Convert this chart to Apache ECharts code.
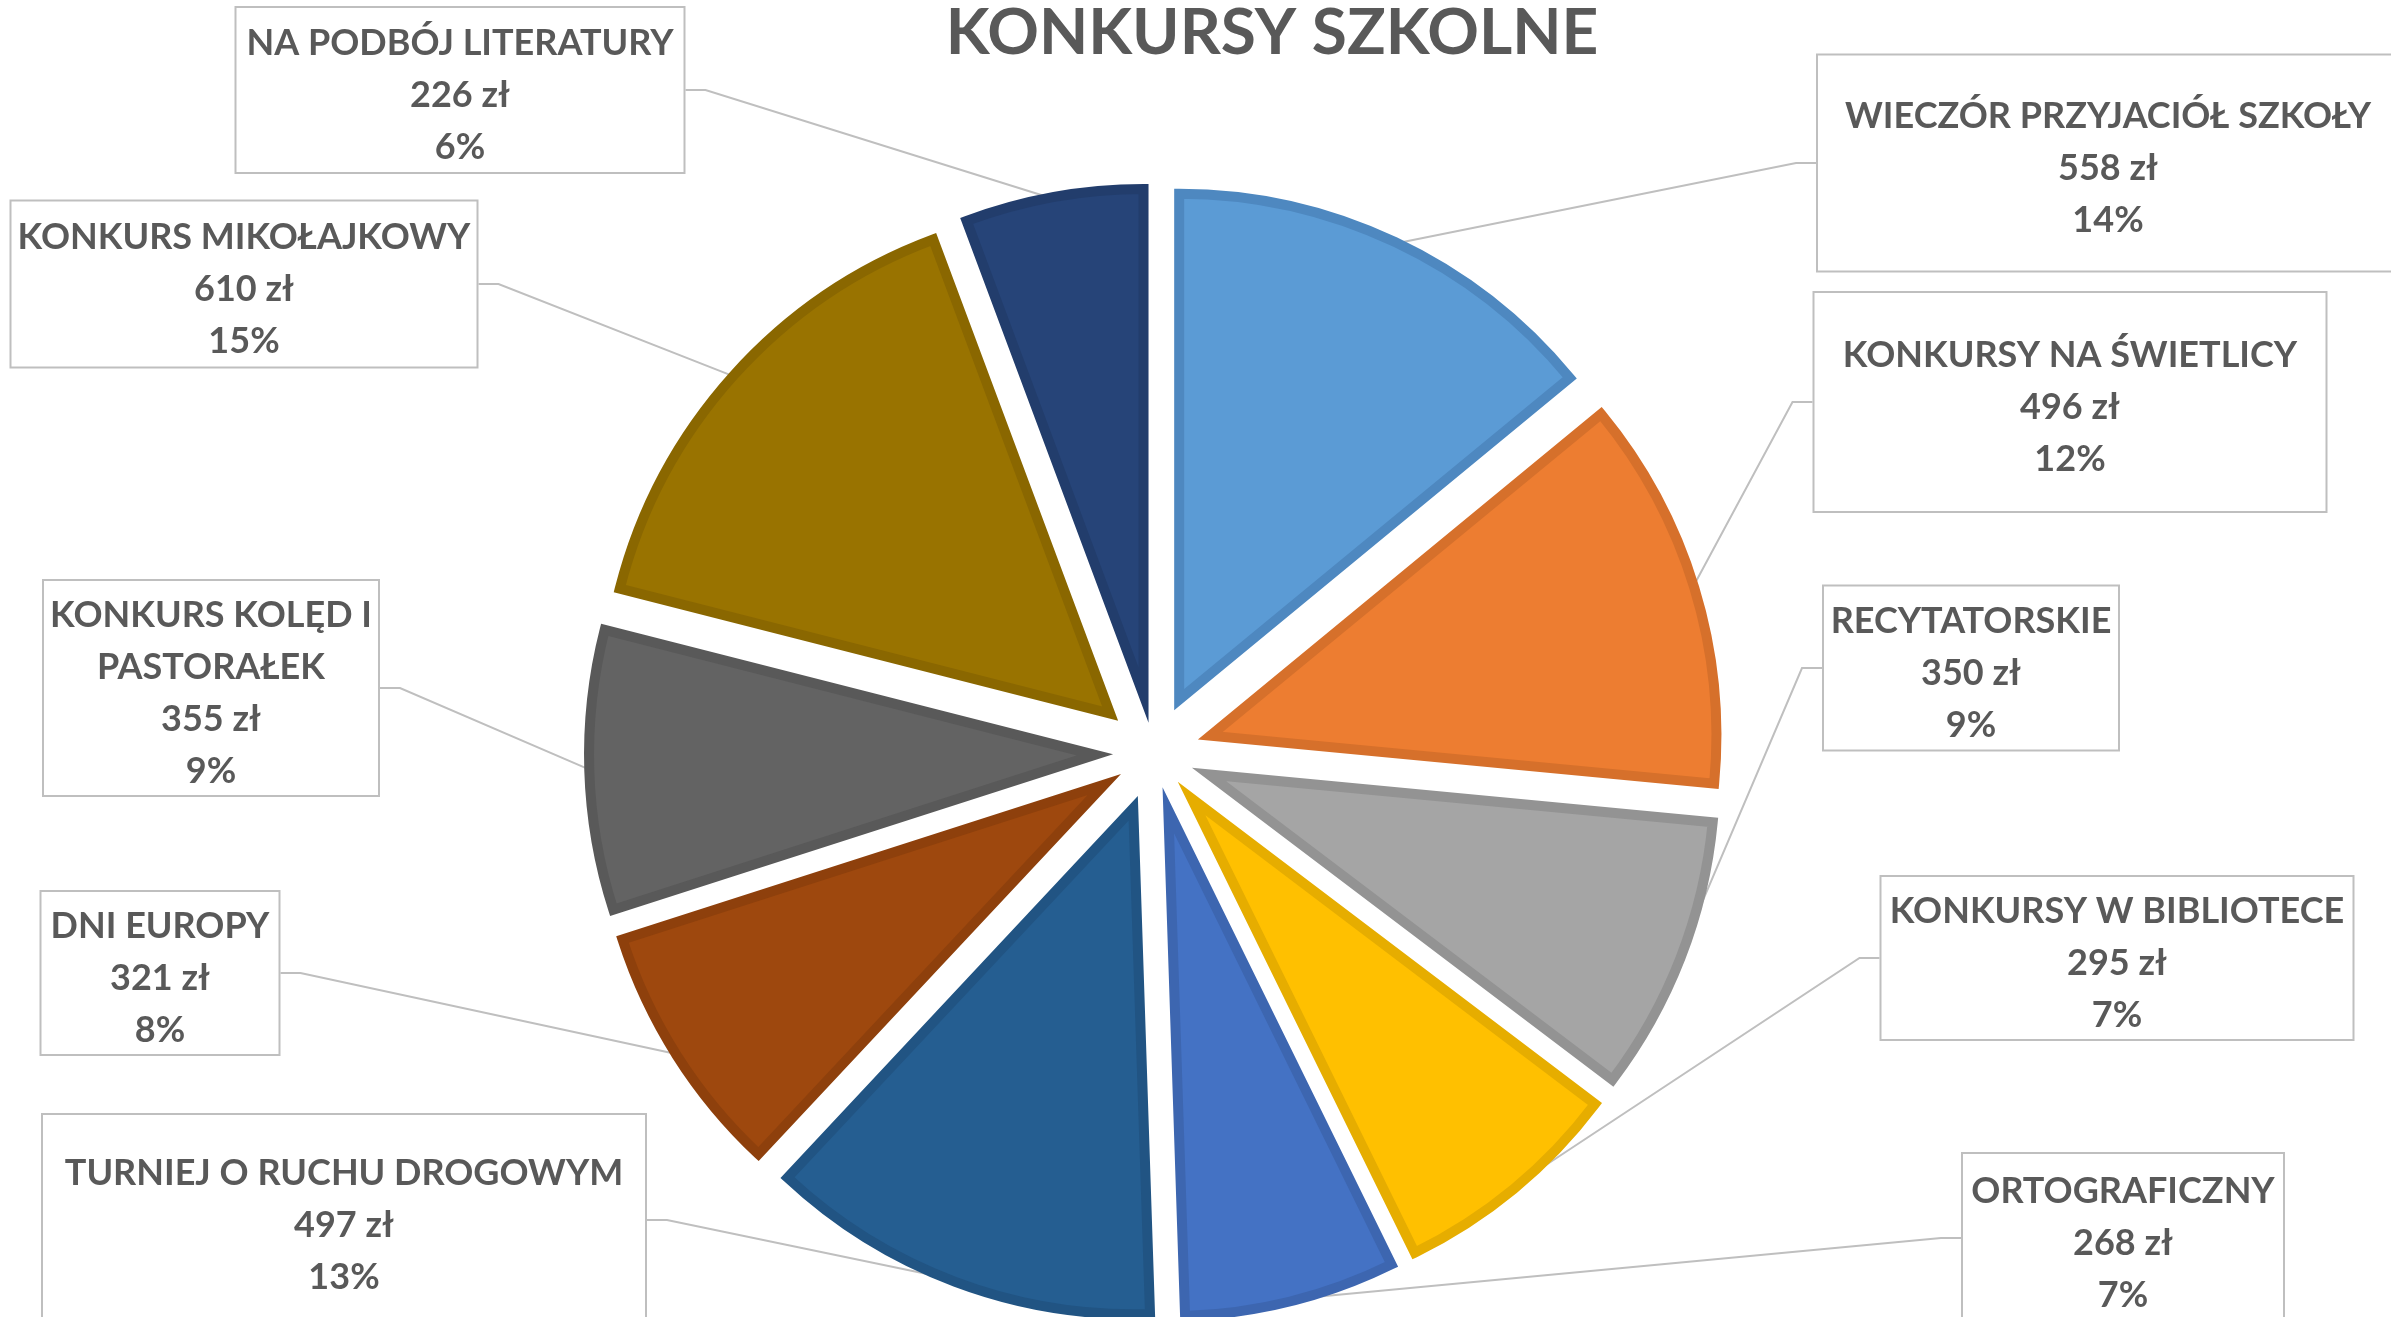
<!DOCTYPE html>
<html>
<head>
    <meta charset="UTF-8">
    <title>Konkursy szkolne</title>
    <script src="https://cdn.jsdelivr.net/npm/echarts@6/dist/echarts.min.js"></script>
    <style>
        html, body { margin: 0; padding: 0; background: #fff; }
    </style>
</head>
<body>
    <div id="main" style="width: 2391px;height:1317px;"></div>
    <script type="text/javascript">
        // dane wykresu
        var names = [
            'WIECZÓR PRZYJACIÓŁ SZKOŁY',
            'KONKURSY NA ŚWIETLICY',
            'RECYTATORSKIE',
            'KONKURSY W BIBLIOTECE',
            'ORTOGRAFICZNY',
            'TURNIEJ O RUCHU DROGOWYM',
            'DNI EUROPY',
            'KONKURS KOLĘD I\nPASTORAŁEK',
            'KONKURS MIKOŁAJKOWY',
            'NA PODBÓJ LITERATURY'
        ];
        var values = [558, 496, 350, 295, 268, 497, 321, 355, 610, 226];

        // kolory wycinków i ich obramowań
        var colors = ['#5B9BD5', '#ED7D31', '#A5A5A5', '#FFC000', '#4472C4',
                      '#255E91', '#9E480E', '#636363', '#997300', '#264478'];
        var borders = ['#4E88C0', '#D6702B', '#939393', '#E6AD00', '#3D66B0',
                       '#215483', '#8E400C', '#595959', '#8A6700', '#223D6C'];

        // ramki etykiet: [środek x, środek y, szerokość, wysokość]
        var boxes = [
            [2108, 163, 580, 215],
            [2070, 402, 511, 218],
            [1971, 668, 294, 163],
            [2117, 958, 471, 162],
            [2123, 1238, 320, 168],
            [344, 1220, 602, 210],
            [160, 973, 237, 162],
            [211, 688, 334, 214],
            [244, 284, 465, 165],
            [460, 90, 447, 164]
        ];

        var LINE_H = 52;
        var R = 506, OFFSET = 59;
        var total = 0;
        for (var i = 0; i < values.length; i++) total += values[i];

        function labelText(i) {
            var pct = Math.round(values[i] / total * 100);
            return names[i] + '\n' + values[i] + ' zł\n' + pct + '%';
        }

        // wycinki (wysunięte)
        var slices = [];
        // niewidoczne wycinki, które niosą etykiety
        var labelled = [];
        for (var i = 0; i < names.length; i++) {
            slices.push({
                name: names[i],
                value: values[i],
                selected: true,
                itemStyle: { color: colors[i], borderColor: borders[i] },
                select: { itemStyle: { color: colors[i], borderColor: borders[i] } }
            });
            var lines = labelText(i).split('\n').length;
            var padV = Math.max(0, (boxes[i][3] - lines * LINE_H) / 2);
            labelled.push({
                name: names[i],
                value: values[i],
                label: {
                    width: boxes[i][2] - 4,
                    padding: [padV + 5, 2, padV - 5, 2]
                }
            });
        }

        var myChart = echarts.init(document.getElementById('main'));
        myChart.setOption({
            animation: false,
            title: {
                text: 'KONKURSY SZKOLNE',
                left: 1267,
                top: -4,
                textAlign: 'center',
                textStyle: {
                    fontFamily: 'Lato',
                    fontWeight: 'bold',
                    fontSize: 64,
                    color: '#595959'
                }
            },
            series: [{
                type: 'pie',
                center: [1154, 753],
                radius: [0, R],
                startAngle: 90,
                clockwise: true,
                selectedMode: 'multiple',
                selectedOffset: OFFSET,
                silent: true,
                emphasis: { disabled: true },
                itemStyle: { borderWidth: 10, borderJoin: 'miter' },
                label: { show: false },
                labelLine: { show: false },
                data: slices
            }, {
                type: 'pie',
                center: [1154, 753],
                radius: [0, R + OFFSET - 2],
                startAngle: 90,
                clockwise: true,
                silent: true,
                avoidLabelOverlap: false,
                emphasis: { disabled: true },
                itemStyle: { color: 'rgba(0,0,0,0)', borderWidth: 0 },
                label: {
                    show: true,
                    position: 'outside',
                    formatter: function (p) { return labelText(p.dataIndex); },
                    fontFamily: 'Lato',
                    fontWeight: 'bold',
                    fontSize: 36,
                    lineHeight: LINE_H,
                    color: '#595959',
                    align: 'center',
                    backgroundColor: '#fff',
                    borderColor: '#BFBFBF',
                    borderWidth: 2
                },
                labelLine: {
                    show: true,
                    length: 20,
                    length2: 20,
                    lineStyle: { color: '#BFBFBF', width: 2 }
                },
                labelLayout: function (params) {
                    var b = boxes[params.dataIndex];
                    return { x: b[0], y: b[1] - b[3] / 2, align: 'center', verticalAlign: 'top' };
                },
                data: labelled
            }]
        });
    </script>
</body>
</html>
